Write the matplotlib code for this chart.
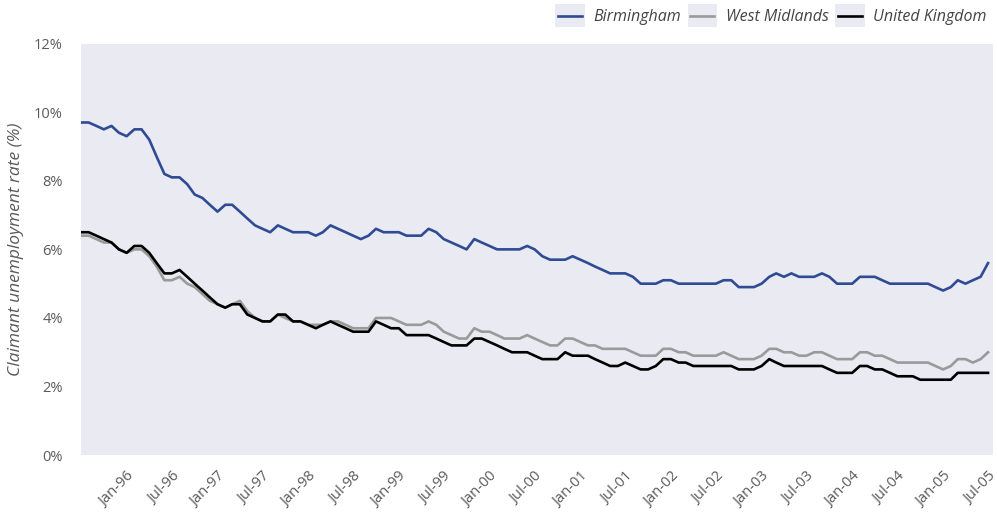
import matplotlib
matplotlib.use("Agg")
import matplotlib.pyplot as plt
from matplotlib.patches import Rectangle
from matplotlib.legend_handler import HandlerLine2D
import pandas as pd

# monthly claimant unemployment rates (%), Jul-95 .. Jul-05
months = pd.date_range("1995-07-01", periods=121, freq="MS")

birmingham = [
    9.7, 9.7, 9.6, 9.5, 9.6, 9.4, 9.3, 9.5, 9.5, 9.2,
    8.7, 8.2, 8.1, 8.1, 7.9, 7.6, 7.5, 7.3, 7.1, 7.3,
    7.3, 7.1, 6.9, 6.7, 6.6, 6.5, 6.7, 6.6, 6.5, 6.5,
    6.5, 6.4, 6.5, 6.7, 6.6, 6.5, 6.4, 6.3, 6.4, 6.6,
    6.5, 6.5, 6.5, 6.4, 6.4, 6.4, 6.6, 6.5, 6.3, 6.2,
    6.1, 6.0, 6.3, 6.2, 6.1, 6.0, 6.0, 6.0, 6.0, 6.1,
    6.0, 5.8, 5.7, 5.7, 5.7, 5.8, 5.7, 5.6, 5.5, 5.4,
    5.3, 5.3, 5.3, 5.2, 5.0, 5.0, 5.0, 5.1, 5.1, 5.0,
    5.0, 5.0, 5.0, 5.0, 5.0, 5.1, 5.1, 4.9, 4.9, 4.9,
    5.0, 5.2, 5.3, 5.2, 5.3, 5.2, 5.2, 5.2, 5.3, 5.2,
    5.0, 5.0, 5.0, 5.2, 5.2, 5.2, 5.1, 5.0, 5.0, 5.0,
    5.0, 5.0, 5.0, 4.9, 4.8, 4.9, 5.1, 5.0, 5.1, 5.2,
    5.6,
]

west_midlands = [
    6.4, 6.4, 6.3, 6.2, 6.2, 6.0, 5.9, 6.0, 6.0, 5.8,
    5.5, 5.1, 5.1, 5.2, 5.0, 4.9, 4.7, 4.5, 4.4, 4.3,
    4.4, 4.5, 4.2, 4.0, 3.9, 3.9, 4.1, 4.0, 3.9, 3.9,
    3.8, 3.8, 3.8, 3.9, 3.9, 3.8, 3.7, 3.7, 3.7, 4.0,
    4.0, 4.0, 3.9, 3.8, 3.8, 3.8, 3.9, 3.8, 3.6, 3.5,
    3.4, 3.4, 3.7, 3.6, 3.6, 3.5, 3.4, 3.4, 3.4, 3.5,
    3.4, 3.3, 3.2, 3.2, 3.4, 3.4, 3.3, 3.2, 3.2, 3.1,
    3.1, 3.1, 3.1, 3.0, 2.9, 2.9, 2.9, 3.1, 3.1, 3.0,
    3.0, 2.9, 2.9, 2.9, 2.9, 3.0, 2.9, 2.8, 2.8, 2.8,
    2.9, 3.1, 3.1, 3.0, 3.0, 2.9, 2.9, 3.0, 3.0, 2.9,
    2.8, 2.8, 2.8, 3.0, 3.0, 2.9, 2.9, 2.8, 2.7, 2.7,
    2.7, 2.7, 2.7, 2.6, 2.5, 2.6, 2.8, 2.8, 2.7, 2.8,
    3.0,
]

united_kingdom = [
    6.5, 6.5, 6.4, 6.3, 6.2, 6.0, 5.9, 6.1, 6.1, 5.9,
    5.6, 5.3, 5.3, 5.4, 5.2, 5.0, 4.8, 4.6, 4.4, 4.3,
    4.4, 4.4, 4.1, 4.0, 3.9, 3.9, 4.1, 4.1, 3.9, 3.9,
    3.8, 3.7, 3.8, 3.9, 3.8, 3.7, 3.6, 3.6, 3.6, 3.9,
    3.8, 3.7, 3.7, 3.5, 3.5, 3.5, 3.5, 3.4, 3.3, 3.2,
    3.2, 3.2, 3.4, 3.4, 3.3, 3.2, 3.1, 3.0, 3.0, 3.0,
    2.9, 2.8, 2.8, 2.8, 3.0, 2.9, 2.9, 2.9, 2.8, 2.7,
    2.6, 2.6, 2.7, 2.6, 2.5, 2.5, 2.6, 2.8, 2.8, 2.7,
    2.7, 2.6, 2.6, 2.6, 2.6, 2.6, 2.6, 2.5, 2.5, 2.5,
    2.6, 2.8, 2.7, 2.6, 2.6, 2.6, 2.6, 2.6, 2.6, 2.5,
    2.4, 2.4, 2.4, 2.6, 2.6, 2.5, 2.5, 2.4, 2.3, 2.3,
    2.3, 2.2, 2.2, 2.2, 2.2, 2.2, 2.4, 2.4, 2.4, 2.4,
    2.4,
]

series_names = ["Birmingham", "West Midlands", "United Kingdom"]
series_colors = ["#2f4b93", "#9a9a9a", "#000000"]

tick_dates = pd.date_range("1996-01-01", "2005-07-01", freq="6MS")
tick_labels = [d.strftime("%b-%y") for d in tick_dates]
y_ticks = [0, 2, 4, 6, 8, 10, 12]

bg = "#eaebf2"
text_col = "#5a5a5a"
plt.rcParams["font.family"] = ["Open Sans", "DejaVu Sans"]


# legend handle drawn on a small grey box, like the original
class BoxedLine(HandlerLine2D):
    def create_artists(self, legend, orig_handle, xdescent, ydescent,
                       width, height, fontsize, trans):
        arts = super().create_artists(legend, orig_handle, xdescent, ydescent,
                                      width, height, fontsize, trans)
        box = Rectangle((-xdescent - 2, -ydescent - 4), width + 4, height + 8,
                        facecolor=bg, edgecolor="none", transform=trans)
        return [box] + list(arts)


fig = plt.figure(figsize=(9.97, 5.19), dpi=100)
ax = fig.add_axes([0.0812, 0.123, 0.9148, 0.793])
ax.set_facecolor(bg)

for vals, name, col in zip([birmingham, west_midlands, united_kingdom],
                           series_names, series_colors):
    ax.plot(months, vals, color=col, lw=1.9, label=name,
            solid_joinstyle="round")

ax.set_xlim(months[0], months[-1] + pd.Timedelta(days=20))
ax.set_ylim(0, 12)
ax.set_yticks(y_ticks)
ax.set_yticklabels([f"{v}%" for v in y_ticks])
ax.set_xticks(tick_dates)
ax.set_xticklabels(tick_labels, rotation=45, ha="right",
                   rotation_mode="anchor")
ax.tick_params(axis="both", length=0, colors=text_col, labelsize=10.5)
ax.tick_params(axis="x", pad=10)
ax.tick_params(axis="y", pad=13)
for s in ax.spines.values():
    s.set_visible(False)

ax.set_ylabel("Claimant unemployment rate (%)", style="italic",
              color=text_col, fontsize=12.5, labelpad=7)

leg = fig.legend(loc="upper right", bbox_to_anchor=(1.004, 1.01), ncol=3,
                 frameon=False, handlelength=1.5, handletextpad=0.7,
                 columnspacing=0.6, prop={"style": "italic", "size": 11.5},
                 handler_map={plt.Line2D: BoxedLine()})
for t in leg.get_texts():
    t.set_color("#444444")

fig.savefig("out.png", dpi=100)
